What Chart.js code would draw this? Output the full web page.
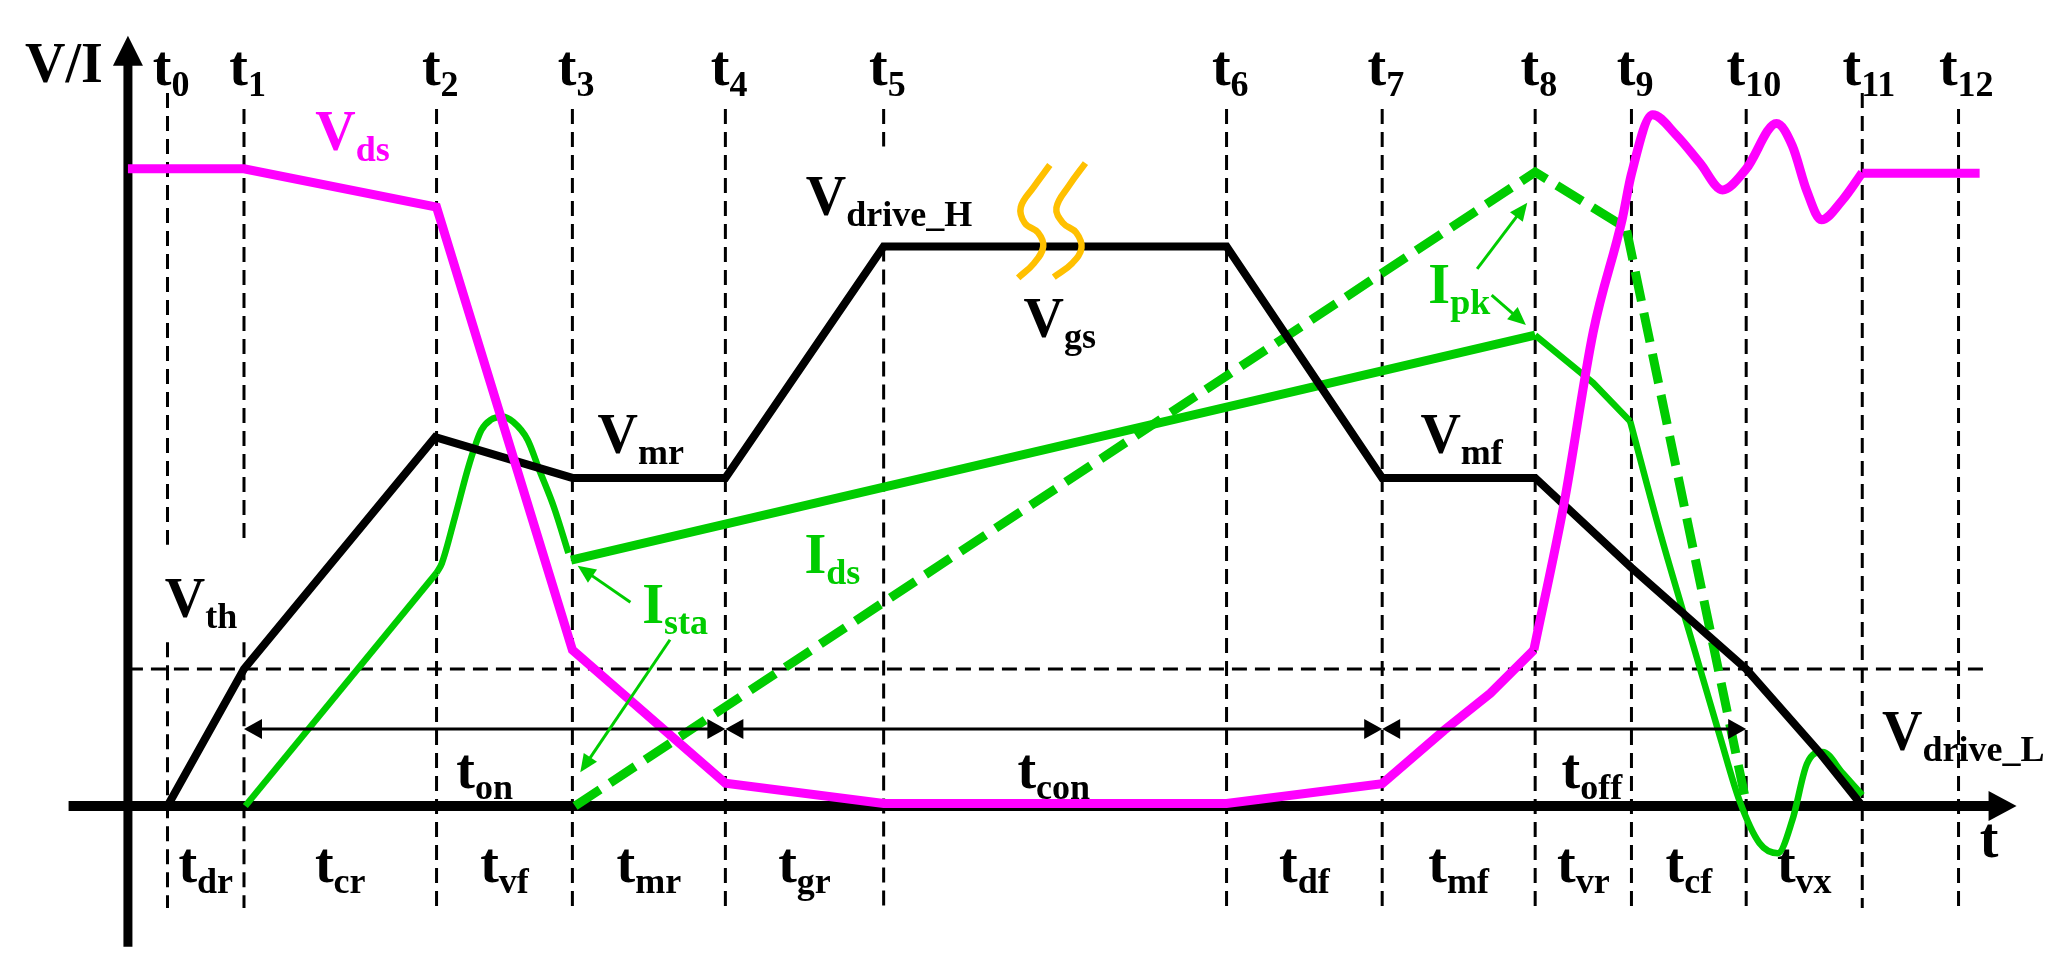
<!DOCTYPE html>
<html>
<head>
<meta charset="utf-8">
<script src="https://cdn.jsdelivr.net/npm/chart.js@4.4.0/dist/chart.umd.min.js"></script>
<style>
  html, body { margin: 0; padding: 0; background: #fff; }
  #wrap { width: 2068px; height: 973px; }
</style>
</head>
<body>
<div id="wrap"><canvas id="c"></canvas></div>
<script>
// time instants t0..t12 (x units)
const times = [3.0, 8.8, 23.4, 33.7, 45.3, 57.3, 83.3, 95.1, 106.7, 114.0, 122.7, 131.5, 138.8];
const intervalNames = ['dr', 'cr', 'vf', 'mr', 'gr', '', 'df', 'mf', 'vr', 'cf', 'vx', ''];
const vth = 21.5;

// Vds (magenta)
const vdsRamp = [[0, 100], [8.8, 100], [23.4, 94], [33.7, 24.5], [45.3, 3.6], [57.3, 0.4], [83.3, 0.4],
  [95.1, 3.5], [99.8, 11.9], [103.3, 17.7], [106.6, 24.5]];
const vdsRing = [[106.6, 24.5], [108.9, 47.6], [111.1, 74.4], [113.3, 92.1], [114.0, 99.2], [115.6, 108.5],
  [117.4, 105.3], [119.2, 100.9], [120.9, 96.7], [122.7, 100.0], [125.0, 107.1], [126.2, 103.6],
  [127.3, 96.5], [128.4, 92.0], [130.0, 95.1], [131.5, 99.4]];
const vdsTail = [[131.5, 99.3], [140.4, 99.3]];

// Vgs (black)
const vgs = [[3.0, 0], [8.8, 21.5], [23.3, 57.9], [33.7, 51.5], [45.3, 51.5], [57.3, 87.8], [83.3, 87.8],
  [95.1, 51.5], [106.7, 51.5], [114.0, 37.4], [122.7, 21.5], [128.3, 8.3], [131.5, 0]];

// Ids (green solid)
const idsRise = [[8.9, 0], [23.4, 36.6]];
const idsBump = [[23.4, 36.6], [23.8, 38.1], [24.8, 45.4], [25.9, 53.8], [26.8, 59.0], [27.5, 60.6], [28.4, 61.1],
  [29.2, 60.3], [30.3, 57.5], [31.2, 52.7], [32.3, 46.9], [33.4, 39.7]];
const idsOn = [[33.6, 38.6], [106.7, 73.9]];
const idsPeak = [[106.7, 73.9], [111.1, 66.4], [113.9, 60.4]];
const idsFall = [[113.9, 60.4], [116.2, 42.7], [118.7, 25.1], [120.7, 11.0], [122.2, 0.8], [123.7, -5.8],
  [125.1, -7.4], [126.2, -2.2], [127.3, 6.6], [128.5, 8.5], [130.0, 5.2], [131.5, 1.7]];

// Ids dashed (green)
const idsDash = [[33.9, 0], [106.7, 99.5], [113.6, 90.7], [122.7, 0.5]];

// break mark on Vgs (orange)
const breakA = [[69.9, 100.6], [68.7, 97.2], [67.7, 94.0], [68.0, 91.5], [69.0, 90.0], [69.4, 87.8], [68.7, 85.2], [67.5, 82.9]];
const breakB = [[72.6, 100.9], [71.4, 97.5], [70.4, 93.9], [70.9, 91.5], [71.9, 90.0], [72.3, 87.6], [71.6, 85.2], [70.2, 83.0]];

const spans = [[1, 4, 'on'], [4, 7, 'con'], [7, 10, 'off']];
const spanY = 12.1;

const noteArrows = [
  [[38.1, 32.0], [34.1, 37.7]],
  [[41.1, 26.1], [34.3, 5.3]],
  [[102.3, 84.3], [106.1, 94.7]],
  [[103.4, 80.2], [106.0, 75.5]]
];

const MAGENTA = '#FF00FF', GREEN = '#00CC00', ORANGE = '#FFC000';
const SERIF = '"Liberation Serif", "Times New Roman", serif';
const MAIN_FONT = 'bold 56px ' + SERIF;
const SUB_FONT = 'bold 36px ' + SERIF;

const notes = [
  {main: 'V/I', x: -7.8, y: 113.7, color: '#000'},
  {main: 'V', sub: 'ds', x: 14.2, y: 103.0, color: MAGENTA},
  {main: 'V', sub: 'drive_H', x: 51.4, y: 92.8, color: '#000'},
  {main: 'V', sub: 'gs', x: 67.9, y: 73.6, color: '#000'},
  {main: 'V', sub: 'mr', x: 35.6, y: 55.4, color: '#000'},
  {main: 'V', sub: 'mf', x: 98.0, y: 55.4, color: '#000'},
  {main: 'V', sub: 'th', x: 2.8, y: 29.6, color: '#000'},
  {main: 'I', sub: 'sta', x: 39.0, y: 28.7, color: GREEN},
  {main: 'I', sub: 'ds', x: 51.3, y: 36.6, color: GREEN},
  {main: 'I', sub: 'pk', x: 98.6, y: 79.0, color: GREEN},
  {main: 'V', sub: 'drive_L', x: 133.0, y: 8.8, color: '#000'},
  {main: 't', x: 140.4, y: -8.0, color: '#000'}
];

function line(points, color, width, extra) {
  return Object.assign({
    data: points.map(p => ({x: p[0], y: p[1]})),
    showLine: true,
    borderColor: color,
    borderWidth: width,
    pointRadius: 0,
    fill: false,
    tension: 0
  }, extra || {});
}

const guideTop = [111.9, 109.4, 109.4, 109.4, 109.4, 109.4, 109.4, 109.4, 109.4, 109.4, 109.4, 111.9, 109.4];
const guideBottom = -16.0;
const guideGaps = {0: [41.0, 25.7], 1: [41.0, 25.7], 5: [103.5, 87.8]};

const datasets = [
  line(breakA, ORANGE, 6.5, {tension: 0.4, order: -1}),
  line(breakB, ORANGE, 6.5, {tension: 0.4, order: -1}),
  line(vdsRamp, MAGENTA, 9, {order: 0}),
  line(vdsRing, MAGENTA, 9, {order: 0, cubicInterpolationMode: 'monotone'}),
  line(vdsTail, MAGENTA, 9, {order: 0}),
  line(vgs, '#000', 8, {order: 1}),
  line(idsRise, GREEN, 6.5, {order: 2}),
  line(idsBump, GREEN, 6.5, {order: 2, cubicInterpolationMode: 'monotone'}),
  line(idsOn, GREEN, 9, {order: 2}),
  line(idsPeak, GREEN, 6.5, {order: 2}),
  line(idsFall, GREEN, 6.5, {order: 2, cubicInterpolationMode: 'monotone'}),
  line(idsDash, GREEN, 9, {order: 3, borderDash: [30, 12]}),
  line([[0, vth], [140.7, vth]], '#000', 3, {order: 5, borderDash: [15, 8]})
];

times.forEach((t, i) => {
  const gap = guideGaps[i];
  const segs = gap ? [[guideTop[i], gap[0]], [gap[1], guideBottom]] : [[guideTop[i], guideBottom]];
  segs.forEach(s => datasets.push(line([[t, s[0]], [t, s[1]]], '#000', 3, {order: 5, borderDash: [15, 8]})));
});

function label(ctx, main, sub, left, base, color) {
  ctx.fillStyle = color;
  ctx.font = MAIN_FONT;
  ctx.fillText(main, left, base);
  const w = ctx.measureText(main).width;
  if (sub) {
    ctx.font = SUB_FONT;
    ctx.fillText(sub, left + w, base + 11);
  }
}

function width(ctx, main, sub) {
  ctx.font = MAIN_FONT;
  let w = ctx.measureText(main).width;
  if (sub) { ctx.font = SUB_FONT; w += ctx.measureText(sub).width; }
  return w;
}

function head(ctx, tx, ty, fx, fy, len, half) {
  const a = Math.atan2(ty - fy, tx - fx);
  ctx.beginPath();
  ctx.moveTo(tx, ty);
  ctx.lineTo(tx - len * Math.cos(a) + half * Math.sin(a), ty - len * Math.sin(a) - half * Math.cos(a));
  ctx.lineTo(tx - len * Math.cos(a) - half * Math.sin(a), ty - len * Math.sin(a) + half * Math.cos(a));
  ctx.closePath();
  ctx.fill();
}

const sketch = {
  id: 'sketch',
  beforeDatasetsDraw(chart) {
    const {ctx, scales: {x, y}} = chart;
    const x0 = x.getPixelForValue(0), y0 = y.getPixelForValue(0);
    ctx.save();
    ctx.strokeStyle = '#000';
    ctx.fillStyle = '#000';
    ctx.lineWidth = 9;
    // vertical axis
    const yTop = y.getPixelForValue(120.9);
    ctx.beginPath();
    ctx.moveTo(x0, y.getPixelForValue(-22.1));
    ctx.lineTo(x0, yTop + 20);
    ctx.stroke();
    head(ctx, x0, yTop, x0, yTop + 100, 30, 15);
    // time axis
    const xTip = x.getPixelForValue(143.2);
    ctx.lineWidth = 10;
    ctx.beginPath();
    ctx.moveTo(x.getPixelForValue(-4.5), y0);
    ctx.lineTo(xTip - 20, y0);
    ctx.stroke();
    head(ctx, xTip, y0, xTip - 100, y0, 28, 15);
    ctx.restore();
  },
  afterDatasetsDraw(chart) {
    const {ctx, scales: {x, y}} = chart;
    ctx.save();
    ctx.textBaseline = 'alphabetic';
    ctx.textAlign = 'left';

    // dimension arrows
    ctx.strokeStyle = '#000';
    ctx.fillStyle = '#000';
    ctx.lineWidth = 3;
    const ay = y.getPixelForValue(spanY);
    spans.forEach(([a, b]) => {
      const xa = x.getPixelForValue(times[a]), xb = x.getPixelForValue(times[b]);
      ctx.beginPath();
      ctx.moveTo(xa + 10, ay);
      ctx.lineTo(xb - 10, ay);
      ctx.stroke();
      head(ctx, xa, ay, xb, ay, 18, 10);
      head(ctx, xb, ay, xa, ay, 18, 10);
    });

    // green pointer arrows
    ctx.strokeStyle = GREEN;
    ctx.fillStyle = GREEN;
    noteArrows.forEach(([from, to]) => {
      const fx = x.getPixelForValue(from[0]), fy = y.getPixelForValue(from[1]);
      const tx = x.getPixelForValue(to[0]), ty = y.getPixelForValue(to[1]);
      const a = Math.atan2(ty - fy, tx - fx);
      ctx.lineWidth = 3;
      ctx.beginPath();
      ctx.moveTo(fx, fy);
      ctx.lineTo(tx - 12 * Math.cos(a), ty - 12 * Math.sin(a));
      ctx.stroke();
      head(ctx, tx, ty, fx, fy, 18, 8);
    });

    // time instants along the top
    const topBase = y.getPixelForValue(113.2);
    times.forEach((t, i) => {
      const px = x.getPixelForValue(t);
      ctx.font = MAIN_FONT;
      const tw = ctx.measureText('t').width;
      const shift = i >= 10 ? -5 : 0;
      label(ctx, 't', String(i), px + 4 + shift - tw, topBase, '#000');
    });

    // interval names under the axis
    const botBase = y.getPixelForValue(-11.9);
    intervalNames.forEach((n, i) => {
      if (!n) return;
      const cx = x.getPixelForValue((times[i] + times[i + 1]) / 2);
      label(ctx, 't', n, cx - width(ctx, 't', n) / 2, botBase, '#000');
    });

    // span names
    const spanBase = y.getPixelForValue(2.8);
    spans.forEach(([a, b, n]) => {
      const mid = (times[a] + times[b]) / 2 + (n === 'off' ? 2.1 : 0);
      const cx = x.getPixelForValue(mid);
      label(ctx, 't', n, cx - width(ctx, 't', n) / 2, spanBase, '#000');
    });

    notes.forEach(n => {
      label(ctx, n.main, n.sub, x.getPixelForValue(n.x), y.getPixelForValue(n.y), n.color);
    });
    ctx.restore();
  }
};

new Chart(document.getElementById('c'), {
  type: 'scatter',
  data: {datasets},
  options: {
    responsive: true,
    maintainAspectRatio: false,
    animation: false,
    devicePixelRatio: 1,
    layout: {padding: 0},
    scales: {
      x: {type: 'linear', min: -9.7, max: 147.1, display: false},
      y: {type: 'linear', min: -26.2, max: 126.5, display: false}
    },
    plugins: {legend: {display: false}, tooltip: {enabled: false}},
    elements: {point: {radius: 0}}
  },
  plugins: [sketch]
});
</script>
</body>
</html>
